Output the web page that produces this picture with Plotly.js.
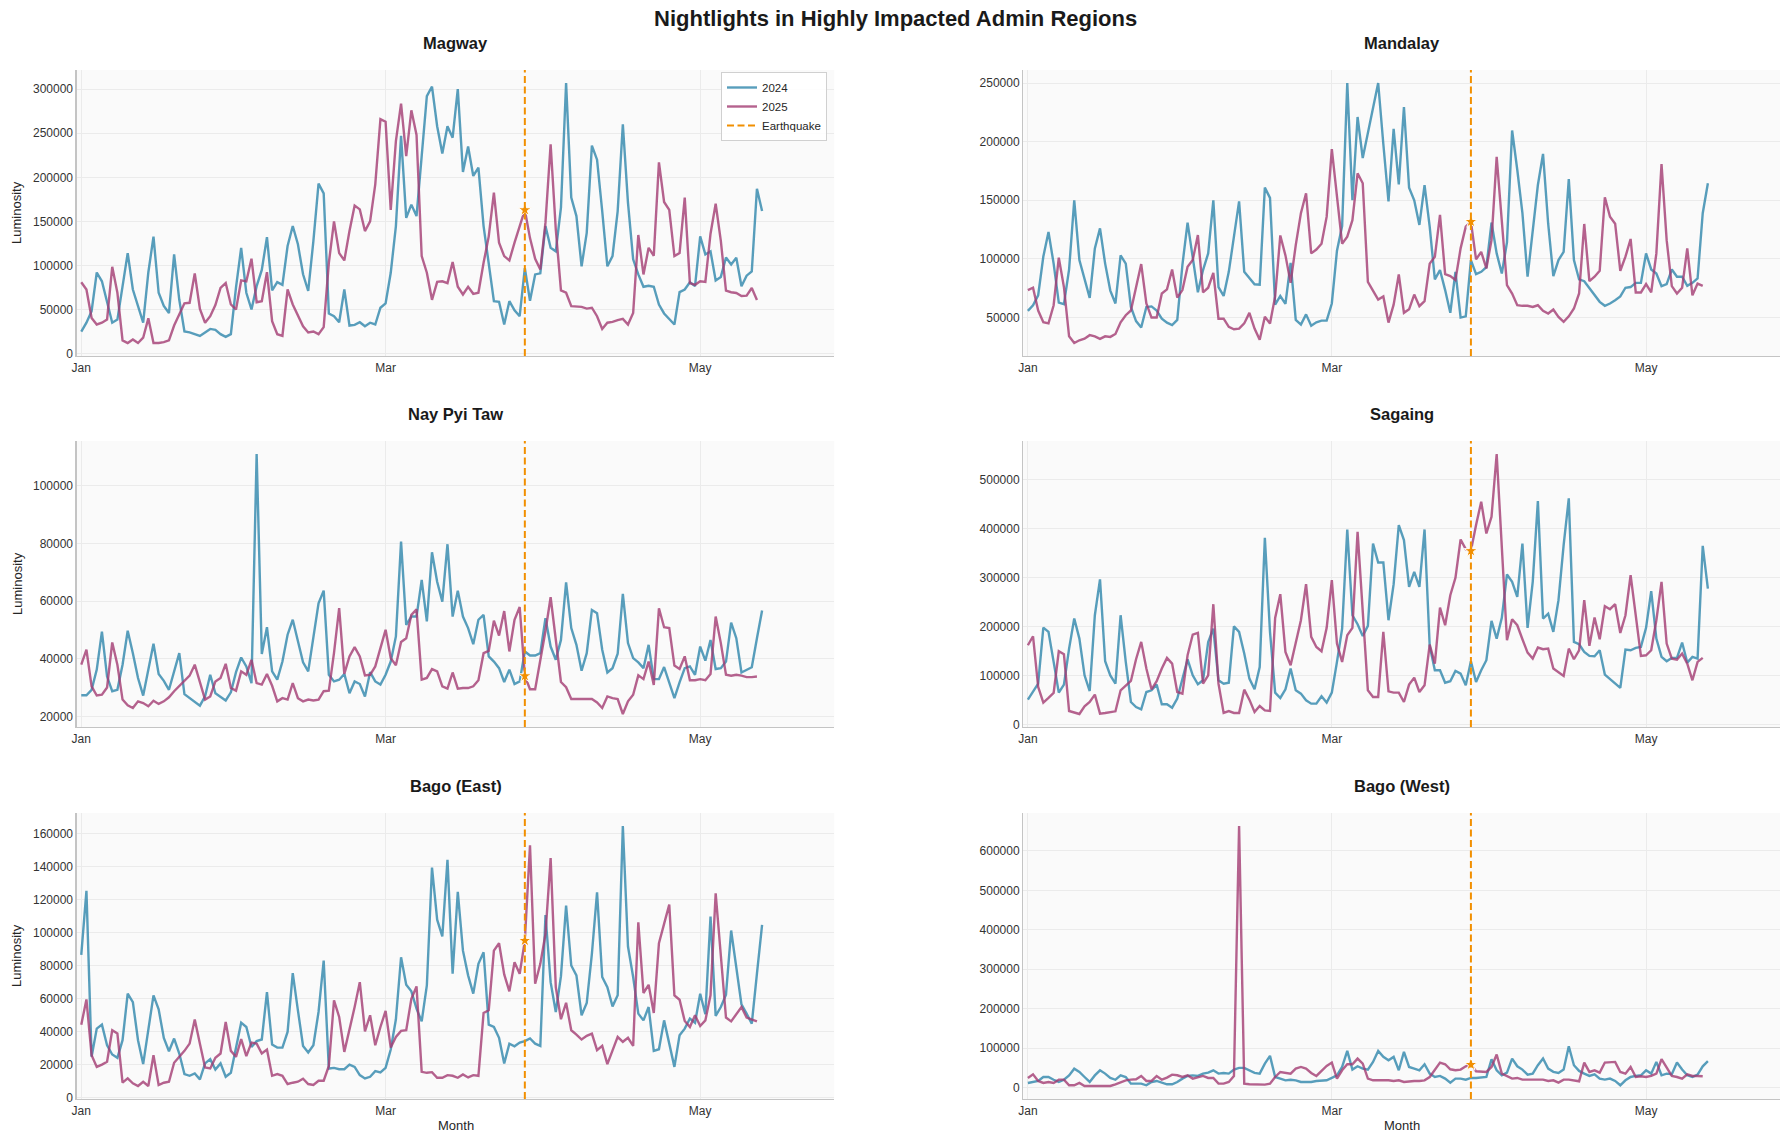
<!DOCTYPE html>
<html>
<head>
<meta charset="utf-8">
<script src="https://cdn.plot.ly/plotly-3.0.1.min.js"></script>
<style>
html,body{margin:0;padding:0;background:#ffffff;}
#chart{width:1790px;height:1145px;}
</style>
</head>
<body>
<div id="chart"></div>
<script>
// ---------------- DATA ----------------
const startDate = '2025-01-01';
const earthquakeDate = '2025-03-28';
const regions = ['Magway', 'Mandalay', 'Nay Pyi Taw', 'Sagaing', 'Bago (East)', 'Bago (West)'];
const seriesNames = ['2024', '2025'];
const tickDates = ['2025-01-01', '2025-03-01', '2025-05-01'];
const tickLabels = ['Jan', 'Mar', 'May'];

const magway2024 = [25000,35000,48000,92000,82000,60000,35000,38600,75000,114000,
72700,54000,35000,92000,132600,69000,54000,46000,112500,61000,
25000,24000,22000,20000,24000,28000,27000,22000,19000,22000,
75000,120000,69000,50000,76500,95000,132000,71600,81000,78000,
122000,144700,124000,90000,71000,127700,192800,181800,45500,42400,
35600,72700,31800,32600,35600,31000,35000,33000,52000,57000,
91700,144700,247000,154000,169000,156000,224000,292000,303000,258000,
227000,258000,245000,300000,206000,235000,201500,211000,144700,99000,
59500,58700,33000,59500,49000,42400,97000,60000,89800,91000,
144700,120000,116000,165500,307000,177000,156000,99000,137000,236000,
220000,161700,99000,110600,161700,260000,171000,107000,89800,75800,
77000,75800,55700,45500,38600,33000,69700,72700,81000,76500,
133000,112500,116000,83000,87000,109000,101000,108700,76300,88400,
93200,186900,161700];
const magway2025 = [81000,72700,40500,33000,35000,38600,98500,69000,15000,12000,
16000,12000,18000,40000,12000,12000,13000,15000,31800,44000,
57000,57600,91000,50700,35000,42400,55000,74600,80000,55700,
50000,83000,82000,107600,58300,59500,92400,36700,22000,20000,
72700,55700,42400,31000,24000,25000,22000,30000,103000,150000,
114000,105700,139000,168000,163600,139000,150000,192000,266000,263000,
163000,241000,283700,224000,276000,248000,110600,91700,61000,81400,
82000,80000,103800,75800,67000,75800,67800,69000,103000,133000,
182600,125800,110600,105700,125800,145500,163000,131000,107600,95500,
148500,237500,141000,71600,69000,53800,53000,53000,51000,52000,
42400,28000,35000,36000,38000,39400,33000,46000,134500,89800,
120000,111000,217000,172000,163000,110600,114000,177000,80000,78000,
82000,81400,136000,170000,127800,71400,69600,68800,65400,65800,
74400,60900];

const mandalay2024 = [55700,60500,69000,102000,123000,96000,62800,61400,91000,150000,
99000,83000,66800,109000,126000,96000,73000,62000,103000,96000,
59000,47000,41500,59000,59500,56000,49000,45600,43600,48000,
95000,131000,102000,71500,90500,104700,150000,76000,68400,89000,
119000,149000,89000,83300,78400,78000,160800,152000,61000,68400,
61700,96600,48000,44000,52700,43000,46000,47400,47400,62000,
107000,128000,250000,150000,221000,186000,208000,227000,250000,198000,
149000,211000,163600,229500,160800,150000,129000,163000,127500,82500,
90500,73400,54000,89000,50000,51000,99000,87000,89000,93000,
131000,104700,87600,114000,209500,176000,139000,84800,123000,163000,
189600,130000,85300,99000,106000,168000,99000,82500,81000,74800,
69000,63400,60000,62000,64800,68000,75400,76000,79600,79600,
104700,91000,87600,76800,78500,91000,84800,84800,77000,79600,
83300,139000,164500];
const mandalay2025 = [73400,75400,56000,46000,45000,60500,101000,76000,34000,28300,
30600,32000,35000,34000,31800,34000,33500,36000,46000,52000,
56000,76000,95600,62000,50000,50000,70500,74000,91000,67000,
73400,93300,99000,120400,71400,75400,88000,49000,49000,42000,
40000,40600,45000,54000,40600,31000,50600,45000,68000,120000,
103000,79600,111800,139000,156000,104700,108000,113000,136000,193600,
156000,113000,119000,133000,173000,164500,80500,73400,65400,68000,
45700,61000,86700,54000,57000,69600,59700,64000,96000,101900,
137500,87000,85300,82000,109000,127500,131800,99600,106000,91900,
116000,187000,132600,77600,70500,60500,60000,60000,59000,60500,
55700,53400,56800,50600,46300,51000,57700,70500,129800,81000,
84800,89900,152600,136000,130000,89900,101900,117000,71400,71400,
78500,71400,104700,180800,116000,76800,70500,75400,109000,69000,
79000,77000];

const nayPyiTaw2024 = [27300,27300,29200,36200,49400,33800,28700,29200,37900,49700,
41900,33300,27200,36200,45200,34700,32300,29200,35600,41900,
27700,26300,24800,23700,26900,34400,28000,26700,25500,28300,
35300,40400,37300,31500,111000,41600,50900,35600,32700,39000,
48300,53500,46500,38700,35600,47300,59200,63600,34400,32100,
32700,34700,28000,32100,31200,26900,35300,32100,31000,34400,
39000,47700,80600,51700,54600,54600,67300,52900,76900,66700,
59800,79700,54600,63600,54600,50600,45000,53500,55200,40800,
39000,36700,31900,36200,31200,32100,42500,41100,41100,41900,
54000,44200,39600,46500,66500,50600,44800,35800,41900,56900,
55800,43100,35200,36700,41700,62500,45400,40200,38700,36700,
44800,32900,32900,37100,31500,26300,31800,36700,37300,34400,
44200,39300,46500,36400,36700,39000,52500,47100,35200,36200,
37000,47100,56700];
const nayPyiTaw2025 = [37900,43100,30400,27200,27500,30000,45600,37900,25800,23800,
22900,25200,24600,23500,25400,24300,25200,26600,28700,30400,
32100,34100,37900,31500,25800,26900,32100,33300,38200,29800,
28900,35600,34400,39600,31500,31000,34700,30600,25200,26300,
25800,31500,26300,25200,25800,25500,25800,28700,28900,42000,
57500,34700,40800,44000,40800,34200,34400,37300,43600,50000,
40200,37700,45800,47100,55200,57100,32700,33300,36400,35600,
30400,29600,35200,29600,29800,29800,30400,32500,41900,42700,
53200,48000,56500,42500,53500,57900,34000,29400,29400,39000,
49600,61300,47300,31900,30100,26000,26000,26000,26000,26000,
24800,22900,26900,26300,26000,20800,25200,27500,34200,32900,
39000,30900,57500,50900,50600,37600,36400,40800,32500,32500,
32900,32500,34700,54600,45400,34400,34100,34400,34100,33600,
33600,33800];

const sagaing2024 = [50400,66000,83000,197500,188700,127400,64700,81000,154600,216000,
175000,100000,68000,222700,296000,128700,100000,83000,222700,127400,
45600,35400,30600,66000,69500,81000,40900,40900,34000,52500,
93300,132800,100000,81700,89900,168000,195500,89900,83000,85000,
200000,188700,144400,93300,71500,117000,380800,188700,64700,53800,
71500,113800,69500,62700,49000,42200,42200,57200,44300,64700,
127400,195500,397800,222700,204400,180500,201000,369000,330400,330400,
212500,286000,406700,376000,280700,311300,280700,397800,160000,110400,
110400,85000,87900,109000,103500,79700,128700,86500,110400,130800,
211200,175000,217300,305900,290900,260200,369000,196900,290900,455700,
216000,226000,188700,253400,365800,461200,168300,163500,147800,139600,
139000,151200,101500,92000,83100,74300,152600,151200,156000,158000,
196900,271800,175000,137600,128700,135600,135600,166900,126000,137600,
134200,364400,277200];
const sagaing2025 = [161400,179800,76300,44300,53800,64000,149200,143000,27200,23800,
21100,36800,45600,60600,21800,23200,25200,26600,69500,79700,
88600,132800,168300,113800,71500,87900,113800,135600,124000,66000,
62700,141000,183200,186600,83100,100000,245200,83100,23200,27200,
23200,23200,70800,50400,25200,37500,28600,27200,217300,265700,
147800,120600,168300,212500,286000,178500,158000,149200,196900,294300,
164800,127400,181900,196900,393000,239800,69500,55900,55900,188700,
67400,64700,64700,45600,81000,95400,66000,79700,162800,124000,
238400,202300,263600,299000,377400,357600,354200,406700,454400,389600,
423700,551800,365800,171700,214600,202300,173700,146500,134200,156700,
153300,154600,113800,105600,98800,154600,132800,151200,253400,160100,
218000,173700,241100,235000,245200,186600,222700,304500,219300,139600,
141000,151200,212500,290900,164800,134200,132200,144400,124000,89900,
127400,135600];

const bagoEast2024 = [86400,125300,24600,41700,44100,31600,26000,24000,34700,62900,
57800,34700,20200,39700,61900,53400,36100,28000,35700,26600,
14100,13100,14500,10900,20600,23200,16900,20600,12500,14900,
30600,45300,42700,30600,34100,35100,63900,32000,30200,30200,
39700,75400,52800,31200,27200,31600,51800,83000,17500,17900,
17100,17100,19900,18500,13500,11500,12500,15900,15100,17900,
29000,47400,85000,68300,64300,53800,46100,67900,139400,107800,
97700,144100,75000,124700,89000,74000,62900,81000,88000,44100,
42700,36100,20600,32600,31000,33200,34100,35700,32600,31200,
110600,69900,51800,73500,116300,80000,74000,49800,57200,87000,
124300,73000,66900,55200,61900,164600,91500,73000,50800,46700,
54800,28200,29200,46700,32600,18500,37700,41700,47800,45300,
62900,50400,109600,49400,54800,62300,101200,79000,56400,50800,
44700,75000,104600];
const bagoEast2025 = [44100,59400,25600,18500,19900,21600,40700,38700,8900,11500,
8500,6900,9500,6900,25600,7500,8900,9500,21000,24600,
28200,32600,47200,32600,18100,17500,24000,26600,45700,28200,
24600,35300,25000,33200,32600,26600,29000,13100,14100,13100,
8100,8900,9500,11300,8100,7500,10100,10100,19100,58800,
48800,27600,40700,54800,69900,40100,49800,31600,42700,52400,
30200,36700,40300,40700,59800,67300,15500,14900,15300,11900,
11900,13500,13100,11900,13900,12100,13500,13100,51200,52800,
89000,93500,74600,64300,82000,75000,95100,152900,68900,81000,
99100,145100,66900,47400,57400,40700,38100,35100,37300,38700,
28600,31200,20200,28600,36700,33700,36100,31200,106200,63300,
68300,51200,93500,105200,116900,61900,59200,46300,42700,49800,
43300,46700,61900,123700,86000,48400,46100,50800,54800,48400,
47400,46100];

const bagoWest2024 = [11900,14400,17000,27000,27000,20000,14400,20000,31000,48000,
40000,27000,14400,31000,44000,35600,24600,20000,31000,27000,
10200,10200,10200,6000,14400,17000,11900,8500,8500,14400,
22900,29700,31000,29700,35600,38000,44000,35600,37300,35600,
45800,50000,50000,44000,37300,35600,61000,80500,27000,22900,
18600,20000,18600,14400,14400,14400,17000,17000,18600,24600,
31000,52500,93200,45800,54200,48300,45800,65300,93200,78000,
69500,78000,44000,90700,52500,48300,44000,59300,35600,27000,
29700,22900,12700,22900,22900,20300,24600,24600,25400,27000,
72000,44000,31400,38000,73700,54200,45800,33000,35600,56800,
73700,48300,40000,37300,45800,105000,56800,42400,35600,29700,
33900,22900,20300,22900,17000,6000,18600,27000,29700,31400,
44000,35600,65300,31400,35600,33900,63600,45800,31400,27000,
33000,54200,67000];
const bagoWest2025 = [24600,33900,17000,11900,14400,11900,20300,20300,6000,6000,
11900,4200,4200,4200,4200,4200,4200,8500,14400,18600,
20300,21200,29700,17000,17000,29700,20300,25400,33000,31400,
27000,31400,22900,27000,29700,24600,24600,10200,10200,14400,
29700,663000,10200,8500,7600,7600,7600,10200,27000,39800,
38000,35600,48300,52500,48300,37300,29700,41500,55000,63600,
22900,44000,59300,59300,73700,61000,22900,18600,18600,20300,
18600,17000,18600,14400,16100,17000,17000,18600,27000,44000,
63600,59300,46600,44000,45800,54200,58500,41500,39800,39800,
52500,83900,35600,29700,22900,24600,20300,20300,20300,18600,
20300,17000,18600,12700,20300,20300,18600,16100,63600,39800,
44000,38000,63600,65300,65300,39800,35600,52500,27000,28800,
27000,29700,35600,72000,52500,29700,27000,22900,33900,29700,
29700,28800];

const values2024 = [magway2024, mandalay2024, nayPyiTaw2024, sagaing2024, bagoEast2024, bagoWest2024];
const values2025 = [magway2025, mandalay2025, nayPyiTaw2025, sagaing2025, bagoEast2025, bagoWest2025];
const yTickSteps = [50000, 50000, 20000, 100000, 20000, 100000];

// ---------------- STYLE / LAYOUT ----------------
const W = 1790, H = 1145;
const FONT = 'Liberation Sans, Arial, Helvetica, sans-serif';
const COL_2024 = 'rgba(46,134,171,0.8)';
const COL_2025 = 'rgba(162,59,114,0.8)';
const COL_EQ = '#F18F01';
const GRID = '#EBEBEB';
const SPINE = '#C4C4C4';
const colPx = [[76.7, 834.3], [1023.3, 1780]];
const rowPx = [[70, 356], [441, 727], [813, 1099]];
const xRange = ['2024-12-31 02:40', '2025-05-27 00:00'];

function dayDates(n) {
  const t0 = Date.parse(startDate + 'T00:00:00Z');
  const out = [];
  for (let i = 0; i < n; i++) out.push(new Date(t0 + i * 86400000).toISOString().slice(0, 10));
  return out;
}
const eqIndex = Math.round((Date.parse(earthquakeDate + 'T00:00:00Z') - Date.parse(startDate + 'T00:00:00Z')) / 86400000);

const traces = [];
const layout = {
  width: W, height: H,
  margin: {l: 0, r: 0, t: 0, b: 0},
  paper_bgcolor: '#ffffff',
  plot_bgcolor: '#FAFAFA',
  font: {family: FONT, color: '#262626', size: 12},
  showlegend: true,
  legend: {
    x: 827 / W, xanchor: 'right', y: 1 - 72 / H, yanchor: 'top',
    bgcolor: 'rgba(255,255,255,0.9)', bordercolor: '#D0D0D0', borderwidth: 1,
    font: {family: FONT, size: 11.5, color: '#262626'},
    tracegroupgap: 0, itemwidth: 30
  },
  shapes: [],
  annotations: []
};

layout.annotations.push({
  text: '<b>Nightlights in Highly Impacted Admin Regions</b>',
  xref: 'paper', yref: 'paper', x: 0.5, y: 1 - 18 / H,
  xanchor: 'center', yanchor: 'middle', showarrow: false,
  font: {family: FONT, size: 22, color: '#1a1a1a'}
});

regions.forEach((name, i) => {
  const row = Math.floor(i / 2), col = i % 2;
  const k = i === 0 ? '' : String(i + 1);
  const xa = 'xaxis' + k, ya = 'yaxis' + k;
  const xr = 'x' + k, yr = 'y' + k;
  const b = values2024[i], p = values2025[i];
  const all = b.concat(p);
  const mn = Math.min(...all), mx = Math.max(...all);
  const pad = (mx - mn) * 0.05;
  const xd = [colPx[col][0] / W, colPx[col][1] / W];
  const yd = [1 - rowPx[row][1] / H, 1 - rowPx[row][0] / H];

  layout[xa] = {
    domain: xd, anchor: yr, type: 'date', range: xRange,
    tickmode: 'array', tickvals: tickDates, ticktext: tickLabels,
    showgrid: true, gridcolor: GRID, gridwidth: 1,
    showline: true, linecolor: SPINE, linewidth: 1.3, mirror: false,
    zeroline: false, ticks: '', tickfont: {family: FONT, size: 12, color: '#333333'},
    fixedrange: true
  };
  layout[ya] = {
    domain: yd, anchor: xr, range: [mn - pad, mx + pad],
    tick0: 0, dtick: yTickSteps[i], tickformat: 'd',
    showgrid: true, gridcolor: GRID, gridwidth: 1,
    showline: true, linecolor: SPINE, linewidth: 1.3, mirror: false,
    zeroline: false, ticks: '', tickfont: {family: FONT, size: 12, color: '#333333'},
    fixedrange: true
  };

  traces.push({
    type: 'scatter', mode: 'lines', name: seriesNames[0], legendgroup: 'y2024',
    x: dayDates(b.length), y: b, xaxis: xr, yaxis: yr,
    line: {color: COL_2024, width: 2.4}, showlegend: i === 0, hoverinfo: 'skip'
  });
  traces.push({
    type: 'scatter', mode: 'lines', name: seriesNames[1], legendgroup: 'y2025',
    x: dayDates(p.length), y: p, xaxis: xr, yaxis: yr,
    line: {color: COL_2025, width: 2.4}, showlegend: i === 0, hoverinfo: 'skip'
  });
  traces.push({
    type: 'scatter', mode: 'markers', name: 'EQ marker',
    x: [earthquakeDate], y: [p[eqIndex]], xaxis: xr, yaxis: yr,
    marker: {symbol: 'star', size: 10, color: COL_EQ, line: {color: '#ffffff', width: 1}},
    showlegend: false, hoverinfo: 'skip'
  });

  layout.shapes.push({
    type: 'line', xref: xr, yref: yr + ' domain',
    x0: earthquakeDate, x1: earthquakeDate, y0: 0, y1: 1,
    line: {color: COL_EQ, width: 2, dash: '7px,3.5px'}, layer: 'above'
  });

  const titleY = [43, 414, 786][row];
  layout.annotations.push({
    text: '<b>' + name + '</b>', xref: 'paper', yref: 'paper',
    x: (xd[0] + xd[1]) / 2, y: 1 - titleY / H, xanchor: 'center', yanchor: 'middle',
    showarrow: false, font: {family: FONT, size: 16.5, color: '#1a1a1a'}
  });
  if (col === 0) {
    layout.annotations.push({
      text: 'Luminosity', xref: 'paper', yref: 'paper', textangle: -90,
      x: 17 / W, y: (yd[0] + yd[1]) / 2, xanchor: 'center', yanchor: 'middle',
      showarrow: false, font: {family: FONT, size: 13, color: '#262626'}
    });
  }
  if (row === 2) {
    layout.annotations.push({
      text: 'Month', xref: 'paper', yref: 'paper',
      x: (xd[0] + xd[1]) / 2, y: 1 - 1125 / H, xanchor: 'center', yanchor: 'middle',
      showarrow: false, font: {family: FONT, size: 13, color: '#262626'}
    });
  }
});

// legend entry for the earthquake line (drawn outside the visible range)
traces.push({
  type: 'scatter', mode: 'lines', name: 'Earthquake',
  x: ['2020-01-01', '2020-01-02'], y: [0, 0], xaxis: 'x', yaxis: 'y',
  line: {color: COL_EQ, width: 2, dash: '7px,3.5px'}, showlegend: true, hoverinfo: 'skip'
});

Plotly.newPlot('chart', traces, layout, {displayModeBar: false, staticPlot: true});
</script>
</body>
</html>
